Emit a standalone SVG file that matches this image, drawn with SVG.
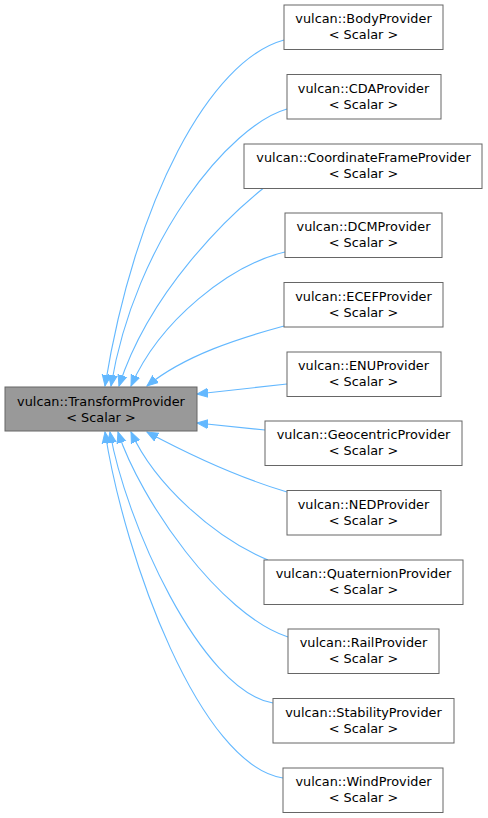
<svg xmlns="http://www.w3.org/2000/svg" width="488" height="818" viewBox="0 0 488 818">
<style>
.box{fill:#ffffff;stroke:#666666;stroke-width:1}
.main{fill:#999999;stroke:#666666;stroke-width:1}
text{font-family:"DejaVu Sans","Liberation Sans",sans-serif;font-size:12.85px;fill:#000000;text-anchor:middle}
.edge{fill:none;stroke:#63b8ff;stroke-width:1.1;marker-end:url(#arr)}
</style>
<defs>
<marker id="arr" markerUnits="userSpaceOnUse" viewBox="0 -6 12 12" refX="11" refY="0" markerWidth="12" markerHeight="12" orient="auto">
<path d="M0,-4.5 L11,0 L0,4.5 Z" fill="#63b8ff" stroke="#63b8ff" stroke-width="1"/>
</marker>
</defs>
<rect width="488" height="818" fill="#ffffff"/>
<g id="connectors">
<path class="edge" d="M284,40 C210,60 135,200 105,386"/>
<path class="edge" d="M287,109 C230,125 135,240 111,386"/>
<path class="edge" d="M263,188.5 C230,215 150,290 119,386"/>
<path class="edge" d="M285,252 C230,265 160,320 131,386"/>
<path class="edge" d="M284,326 C240,338 185,355 147,386"/>
<path class="edge" d="M287,384 L197,394"/>
<path class="edge" d="M265,430 L197,423"/>
<path class="edge" d="M287,492 C240,478 190,455 147,432"/>
<path class="edge" d="M268,560 C215,538 155,485 131,432"/>
<path class="edge" d="M288,637 C220,615 140,500 118,432"/>
<path class="edge" d="M273,703 C200,690 125,520 110,432"/>
<path class="edge" d="M283,778 C200,765 125,560 105,432"/>
</g>
<g id="TransformProvider">
<rect class="main" x="5" y="387" width="192" height="44"/>
<text x="101" y="405.5">vulcan::TransformProvider</text>
<text x="101" y="421.5">&lt; Scalar &gt;</text>
</g>
<g id="BodyProvider">
<rect class="box" x="284" y="5" width="159" height="44.5"/>
<text x="363.5" y="23.3">vulcan::BodyProvider</text>
<text x="363.5" y="39.3">&lt; Scalar &gt;</text>
</g>
<g id="CDAProvider">
<rect class="box" x="287" y="74.5" width="154" height="44.5"/>
<text x="363.5" y="92.8">vulcan::CDAProvider</text>
<text x="363.5" y="108.8">&lt; Scalar &gt;</text>
</g>
<g id="CoordinateFrameProvider">
<rect class="box" x="244" y="144" width="238" height="44.5"/>
<text x="363.5" y="162.3">vulcan::CoordinateFrameProvider</text>
<text x="363.5" y="178.3">&lt; Scalar &gt;</text>
</g>
<g id="DCMProvider">
<rect class="box" x="285" y="213" width="157" height="44.5"/>
<text x="363.5" y="231.3">vulcan::DCMProvider</text>
<text x="363.5" y="247.3">&lt; Scalar &gt;</text>
</g>
<g id="ECEFProvider">
<rect class="box" x="284" y="282.5" width="159" height="44.5"/>
<text x="363.5" y="300.8">vulcan::ECEFProvider</text>
<text x="363.5" y="316.8">&lt; Scalar &gt;</text>
</g>
<g id="ENUProvider">
<rect class="box" x="287" y="352" width="154" height="44.5"/>
<text x="363.5" y="370.3">vulcan::ENUProvider</text>
<text x="363.5" y="386.3">&lt; Scalar &gt;</text>
</g>
<g id="GeocentricProvider">
<rect class="box" x="265" y="421" width="197" height="44.5"/>
<text x="363.5" y="439.3">vulcan::GeocentricProvider</text>
<text x="363.5" y="455.3">&lt; Scalar &gt;</text>
</g>
<g id="NEDProvider">
<rect class="box" x="287" y="490.5" width="154" height="44.5"/>
<text x="363.5" y="508.8">vulcan::NEDProvider</text>
<text x="363.5" y="524.8">&lt; Scalar &gt;</text>
</g>
<g id="QuaternionProvider">
<rect class="box" x="264" y="560" width="199" height="44.5"/>
<text x="363.5" y="578.3">vulcan::QuaternionProvider</text>
<text x="363.5" y="594.3">&lt; Scalar &gt;</text>
</g>
<g id="RailProvider">
<rect class="box" x="288" y="629" width="151" height="44.5"/>
<text x="363.5" y="647.3">vulcan::RailProvider</text>
<text x="363.5" y="663.3">&lt; Scalar &gt;</text>
</g>
<g id="StabilityProvider">
<rect class="box" x="273" y="698.5" width="181" height="44.5"/>
<text x="363.5" y="716.8">vulcan::StabilityProvider</text>
<text x="363.5" y="732.8">&lt; Scalar &gt;</text>
</g>
<g id="WindProvider">
<rect class="box" x="283" y="768" width="160" height="44.5"/>
<text x="363.5" y="786.3">vulcan::WindProvider</text>
<text x="363.5" y="802.3">&lt; Scalar &gt;</text>
</g>
</svg>
